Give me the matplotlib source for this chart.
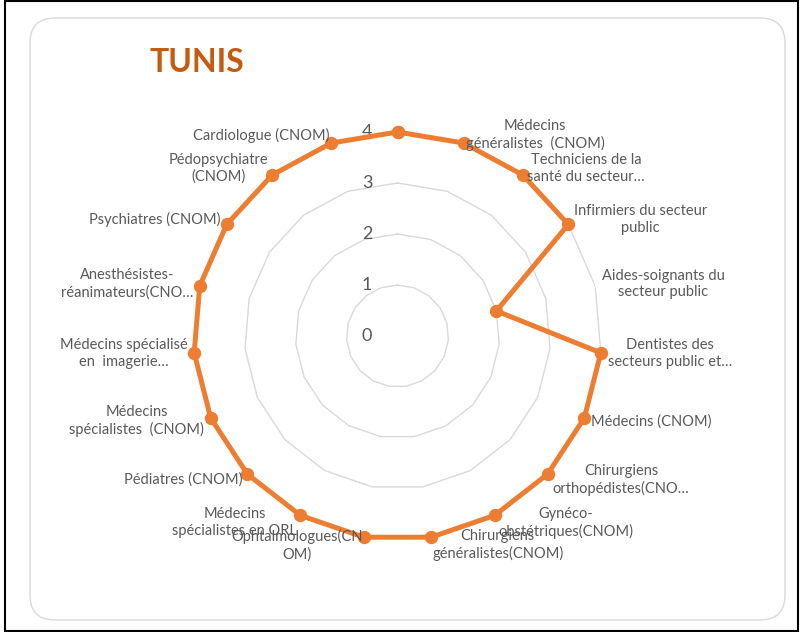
import numpy as np
import matplotlib
matplotlib.use("Agg")
import matplotlib.pyplot as plt
from matplotlib.patches import FancyBboxPatch, Rectangle

# --- DONNÉES ---
categories = [
    "",
    "Médecins\ngénéralistes  (CNOM)",
    "Techniciens de la\nsanté du secteur…",
    "Infirmiers du secteur\npublic",
    "Aides-soignants du\nsecteur public",
    "Dentistes des\nsecteurs public et…",
    "Médecins (CNOM)",
    "Chirurgiens\northopédistes(CNO…",
    "Gynéco-\nobstétriques(CNOM)",
    "Chirurgiens\ngénéralistes(CNOM)",
    "Ophtalmologues(CN\nOM)",
    "Médecins\nspécialistes en ORL",
    "Pédiatres (CNOM)",
    "Médecins\nspécialistes  (CNOM)",
    "Médecins spécialisé\nen  imagerie…",
    "Anesthésistes-\nréanimateurs(CNO…",
    "Psychiatres (CNOM)",
    "Pédopsychiatre\n(CNOM)",
    "Cardiologue (CNOM)",
]
valeurs = [4, 4, 4, 4, 2, 4, 4, 4, 4, 4, 4, 4, 4, 4, 4, 4, 4, 4, 4]
niveaux = [0, 1, 2, 3, 4]
titre = "TUNIS"

# --- STYLE ---
ORANGE = "#ED7D31"
TITRE_COL = "#C55A11"
GRIS_TXT = "#595959"
GRIS_GRILLE = "#D9D9D9"
plt.rcParams["font.family"] = ["Lato", "DejaVu Sans"]

fig = plt.figure(figsize=(8, 6.32), dpi=100)

# cadre noir + encadré arrondi
fig.add_artist(Rectangle((5 / 800, 1 / 632), 793 / 800, 630 / 632,
                         transform=fig.transFigure, fill=False,
                         ec="black", lw=1.5))
fig.add_artist(FancyBboxPatch((0.30, 0.12), 7.55, 6.02,
                              boxstyle="round,pad=0,rounding_size=0.25",
                              transform=fig.dpi_scale_trans, fill=False,
                              ec=GRIS_GRILLE, lw=1))

fig.text(150 / 800, 1 - 63 / 632, titre, color=TITRE_COL, fontsize=23,
         fontweight="bold", ha="left", va="center")

# axes polaires : centre (397.5, 336) px, rayon 204 px
ax = fig.add_axes([193.5 / 800, 92 / 632, 408 / 800, 408 / 632], polar=True)
ax.set_theta_zero_location("N")
ax.set_theta_direction(-1)
ax.set_ylim(0, 4)
ax.set_xticks([])
ax.set_yticks([])
ax.grid(False)
ax.spines["polar"].set_visible(False)
ax.patch.set_alpha(0)

n = len(categories)
theta = np.arange(n) * 2 * np.pi / n
theta_ferme = np.append(theta, theta[0])

# grille polygonale
for v in niveaux[1:]:
    ax.plot(theta_ferme, [v] * (n + 1), color=GRIS_GRILLE, lw=1, zorder=1)

# étiquettes de l'axe radial
for v in niveaux:
    ax.annotate(str(v), xy=(0, v), xytext=(-22, 0), textcoords="offset points",
                ha="center", va="center", fontsize=13, color=GRIS_TXT)

# série
ax.plot(theta_ferme, valeurs + [valeurs[0]], color=ORANGE, lw=3.6,
        marker="o", markersize=8.6, zorder=3, clip_on=False)

# étiquettes des catégories
for t, lab in zip(theta, categories):
    if not lab:
        continue
    s, c = np.sin(t), np.cos(t)
    dx = 5 * abs(s) * (1 if s > 0 else -1)
    dy = 6 * c
    ha = "left" if s > 0 else "right"
    ax.annotate(lab, xy=(t, 4), xytext=(dx, dy), textcoords="offset points",
                ha=ha, va="center", multialignment="center",
                fontsize=10.5, color=GRIS_TXT, linespacing=1.25,
                annotation_clip=False, zorder=4)

fig.savefig("out.png", dpi=100)
